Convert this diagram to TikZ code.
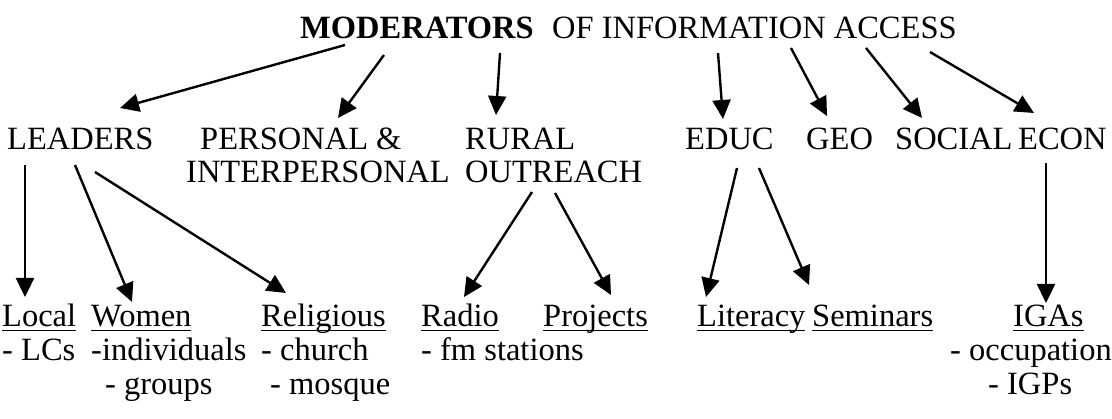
\documentclass[tikz,border=0pt]{standalone}
\usepackage{fontspec}
\setmainfont{Liberation Serif}
\usetikzlibrary{arrows.meta}
% underline drawn at a fixed depth below the baseline
\newcommand\ulword[1]{\setbox0\hbox{#1}\rlap{\rule[-4pt]{\wd0}{1.2pt}}\box0}
\begin{document}
\begin{tikzpicture}[x=1pt,y=-1pt,
  lbl/.style={inner sep=0pt, anchor=base west, align=left,
              font=\fontsize{32.5}{33}\selectfont},
  leaf/.style={lbl, font=\fontsize{32.5}{34}\selectfont},
  arr/.style={line width=2.4pt, -{Triangle[length=19pt,width=18pt]}}]
\useasboundingbox (0,0) rectangle (1112,419);
% multi-line nodes are placed by the baseline of their last line

% heading
\node[lbl, font=\fontsize{32.5}{33}\selectfont\bfseries] (mod) at (300,39) {MODERATORS};
\node[lbl] (ofia) at (552,39) {OF INFORMATION ACCESS};

% moderator categories
\node[lbl] (leaders)  at (7,150)    {LEADERS};
\node[lbl] (personal) at (186,183)  {\hspace*{14pt}PERSONAL \&\\INTERPERSONAL};
\node[lbl] (rural)    at (465,183)  {RURAL\\OUTREACH};
\node[lbl] (educ)     at (685,150)  {EDUC};
\node[lbl] (geo)      at (806,150)  {GEO};
\node[lbl] (social)   at (895,150)  {SOCIAL};
\node[lbl] (econ)     at (1018,150) {ECON};

% channels
\node[leaf] (local) at (2,361)   {\ulword{Local}\\- LCs};
\node[leaf] (women) at (91,395)  {\ulword{Women}\\-individuals\\\hspace*{14pt}- groups};
\node[leaf] (relig) at (261,395) {\ulword{Religious}\\- church\\\hspace*{9pt}- mosque};
\node[leaf] (radio) at (421,361) {\ulword{Radio}\\- fm stations};
\node[leaf] (proj)  at (543,327) {\ulword{Projects}};
\node[leaf] (lit)   at (697,327) {\ulword{Literacy}};
\node[leaf] (sem)   at (812,327) {\ulword{Seminars}};
\node[leaf] (igas)  at (950,395) {\hspace*{63pt}\ulword{IGAs}\\- occupation\\\hspace*{38pt}- IGPs};

% heading to categories
\draw[arr] ([shift={(45,6)}]mod.base west)    -- ([shift={(113,-42)}]leaders.base west);
\draw[arr] ([shift={(84,16)}]mod.base west)   -- ([shift={(152,-65)}]personal.base west);
\draw[arr] ([shift={(200,14)}]mod.base west)  -- ([shift={(31,-68)}]rural.base west);
\draw[arr] ([shift={(166,14)}]ofia.base west) -- ([shift={(38,-31)}]educ.base west);
\draw[arr] ([shift={(239,9)}]ofia.base west)  -- ([shift={(21,-34)}]geo.base west);
\draw[arr] ([shift={(314,9)}]ofia.base west)  -- ([shift={(27,-32)}]social.base west);
\draw[arr] ([shift={(378,13)}]ofia.base west) -- ([shift={(16,-37)}]econ.base west);

% categories to channels
\draw[arr] ([shift={(18,15)}]leaders.base west) -- ([shift={(23,-64)}]local.base west);
\draw[arr] ([shift={(68,15)}]leaders.base west) -- ([shift={(41,-93)}]women.base west);
\draw[arr] ([shift={(88,22)}]leaders.base west) -- ([shift={(25,-102)}]relig.base west);
\draw[arr] ([shift={(67,9)}]rural.base west)    -- ([shift={(43,-64)}]radio.base west);
\draw[arr] ([shift={(90,10)}]rural.base west)   -- ([shift={(68,-32)}]proj.base west);
\draw[arr] ([shift={(52,18)}]educ.base west)    -- ([shift={(9,-30)}]lit.base west);
\draw[arr] ([shift={(74,18)}]educ.base west)    -- ([shift={(-3,-42)}]sem.base west);
\draw[arr] ([shift={(28,13)}]econ.base west)    -- ([shift={(96,-92)}]igas.base west);
\end{tikzpicture}
\end{document}
